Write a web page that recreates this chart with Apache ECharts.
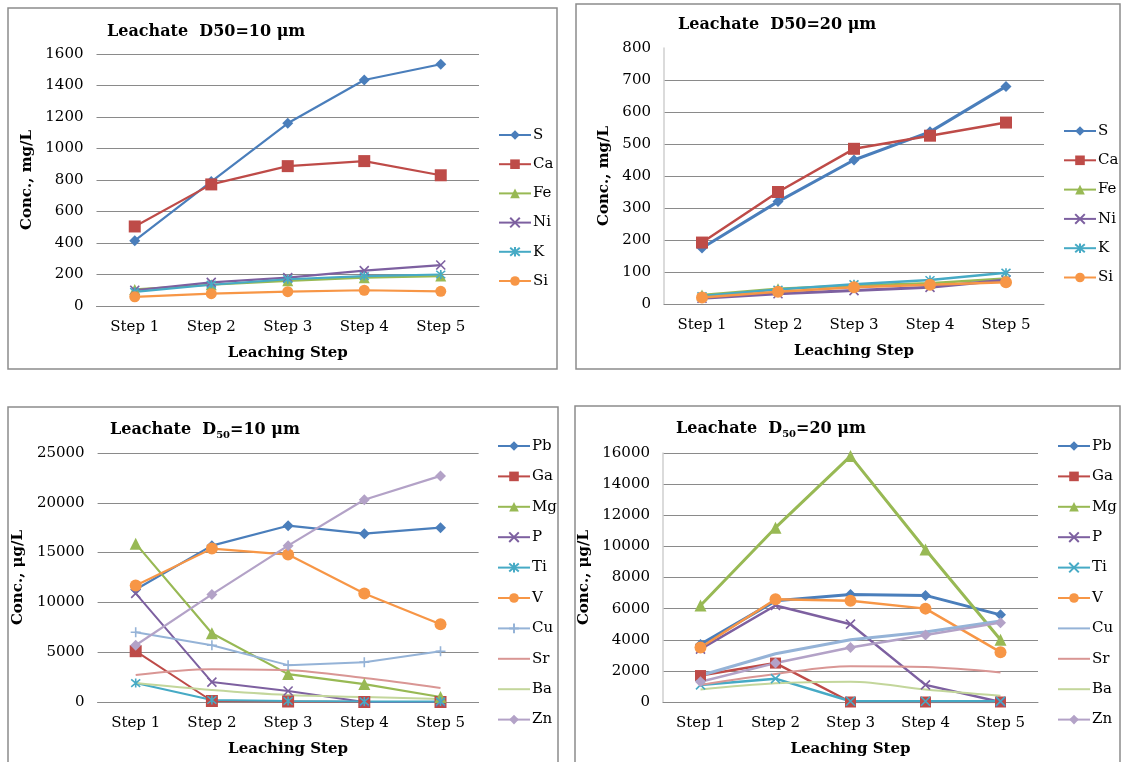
<!DOCTYPE html>
<html>
<head>
<meta charset="utf-8">
<script src="https://cdn.jsdelivr.net/npm/echarts@6/dist/echarts.min.js"></script>
<style>
  html, body { margin: 0; padding: 0; background: #fff; }
  #page { position: relative; width: 1123px; height: 762px; overflow: hidden; background: #fff; }
  .q { position: absolute; }
</style>
</head>
<body>
<div id="page">
  <div class="q" id="q1" style="left:0;top:0;width:562px;height:385px"></div>
  <div class="q" id="q2" style="left:562px;top:0;width:561px;height:385px"></div>
  <div class="q" id="q3" style="left:0;top:385px;width:562px;height:377px"></div>
  <div class="q" id="q4" style="left:562px;top:385px;width:561px;height:377px"></div>
</div>
<script>
// Leaching steps (x categories)
const steps = ['Step 1', 'Step 2', 'Step 3', 'Step 4', 'Step 5'];

// Major elements, D50 = 10 µm leachate (mg/L)
const sA  = [415, 790, 1160, 1435, 1535];
const caA = [505, 772, 888, 920, 830];
const feA = [105, 135, 160, 180, 190];
const niA = [100, 150, 180, 225, 260];
const kA  = [90, 135, 170, 190, 200];
const siA = [58, 78, 91, 100, 93];

// Major elements, D50 = 20 µm leachate (mg/L)
const sB  = [175, 320, 450, 538, 680];
const caB = [192, 350, 485, 526, 567];
const feB = [28, 48, 58, 65, 80];
const niB = [18, 32, 42, 52, 75];
const kB  = [25, 45, 62, 75, 98];
const siB = [20, 38, 52, 60, 68];

// Trace elements, D50 = 10 µm leachate (µg/L)
const pbC = [11300, 15700, 17700, 16900, 17500];
const gaC = [5100, 100, 50, 0, 0];
const mgC = [15900, 6900, 2800, 1800, 500];
const pC  = [10900, 2000, 1100, 0, 0];
const tiC = [1900, 200, 100, 50, 50];
const vC  = [11700, 15400, 14800, 10900, 7800];
const cuC = [7000, 5700, 3700, 4000, 5100];
const srC = [2700, 3300, 3200, 2400, 1400];
const baC = [1900, 1200, 700, 500, 300];
const znC = [5700, 10800, 15700, 20300, 22700];

// Trace elements, D50 = 20 µm leachate (µg/L)
const pbD = [3700, 6500, 6900, 6850, 5600];
const gaD = [1700, 2500, 0, 0, 0];
const mgD = [6200, 11200, 15800, 9800, 4000];
const pD  = [3400, 6200, 5000, 1100, 0];
const tiD = [1100, 1500, 50, 50, 50];
const vD  = [3500, 6600, 6500, 6000, 3200];
const cuD = [1700, 3100, 4000, 4500, 5200];
const srD = [1100, 1800, 2300, 2250, 1900];
const baD = [800, 1200, 1300, 800, 400];
const znD = [1300, 2500, 3500, 4300, 5100];

// Axis ranges
const yMaxA = 1600, yStepA = 200;
const yMaxB = 800, yStepB = 100;
const yMaxC = 25000, yStepC = 5000;
const yMaxD = 16000, yStepD = 2000;

// ---- styling ----
const FONT = 'DejaVu Serif';
const GRID_GRAY = '#8a8a8a';
const C = {
  blue: '#4a7ebb', red: '#be4b48', green: '#98b954', purple: '#7d60a0',
  teal: '#46aac5', orange: '#f79646', ltblue: '#95b3d7', pink: '#d99694',
  ltgreen: '#c3d69b', lilac: '#b3a2c7'
};
const XMARK = 'path://M0,0L10,10M10,0L0,10';
const STAR = 'path://M0,0L10,10M10,0L0,10M5,-1L5,11';
const PLUS = 'path://M5,0L5,10M0,5L10,5';

function line(name, data, color, symbol, size, width, extra) {
  const plain = symbol === 'none';
  const stroked = typeof symbol === 'string' && symbol.indexOf('path://') === 0;
  return Object.assign({
    type: 'line', name: name, data: data,
    // series without markers keep a hidden circle so the legend shows a bare line
    symbol: plain ? 'circle' : symbol, symbolSize: plain ? 1 : size, showSymbol: !plain,
    lineStyle: { color: color, width: width },
    itemStyle: plain ? { color: color, opacity: 0 }
             : stroked ? { color: color, borderColor: color, borderWidth: 1.6 }
             : { color: color, borderWidth: 0 },
    emphasis: { disabled: true },
    animation: false, z: 3
  }, extra || {});
}

// Panel layouts in page coordinates
const panels = [
  {
    el: 'q1', ox: 0, oy: 0,
    box: [8, 8, 549, 361],
    grid: [96.5, 54, 382.5, 252],
    title: 'Leachate  D50=10 μm', titlePos: [107, 22],
    legend: [498, 127, 13.2],
    yName: 'Conc., mg/L', yNameGap: 49, max: yMaxA, step: yStepA, yLine: false, showMax: true,
    series: [
      line('S', sA, C.blue, 'diamond', 11, 2.2),
      line('Ca', caA, C.red, 'rect', 12, 2.2),
      line('Fe', feA, C.green, 'triangle', 11, 2.2),
      line('Ni', niA, C.purple, XMARK, 9, 2.2),
      line('K', kA, C.teal, STAR, 9, 2.2),
      line('Si', siA, C.orange, 'circle', 11, 2.2)
    ]
  },
  {
    el: 'q2', ox: 562, oy: 0,
    box: [576, 4, 544, 365],
    grid: [664, 48, 380, 256],
    title: 'Leachate  D50=20 μm', titlePos: [678, 15],
    legend: [1063, 123, 13.3],
    yName: 'Conc., mg/L', yNameGap: 44, max: yMaxB, step: yStepB, yLine: true, showMax: false,
    series: [
      line('S', sB, C.blue, 'diamond', 11, 3),
      line('Ca', caB, C.red, 'rect', 12, 2.5),
      line('Fe', feB, C.green, 'triangle', 11, 2.5),
      line('Ni', niB, C.purple, XMARK, 9, 3),
      line('K', kB, C.teal, STAR, 9, 2.5),
      line('Si', siB, C.orange, 'circle', 12, 2.5)
    ]
  },
  {
    el: 'q3', ox: 0, oy: 385,
    box: [8, 407, 550, 380],
    grid: [97.6, 453, 381, 251],
    title: 'Leachate  D{s|50}=10 μm', titlePos: [110, 420],
    legend: [497, 438, 14.4],
    yName: 'Conc., μg/L', yNameGap: 57, max: yMaxC, step: yStepC, yLine: false, showMax: true,
    series: [
      line('Pb', pbC, C.blue, 'diamond', 11, 2.2),
      line('Ga', gaC, C.red, 'rect', 12, 2),
      line('Mg', mgC, C.green, 'triangle', 12, 2.2),
      line('P', pC, C.purple, XMARK, 9, 2),
      line('Ti', tiC, C.teal, STAR, 9, 2),
      line('V', vC, C.orange, 'circle', 12, 2.2),
      line('Cu', cuC, C.ltblue, PLUS, 10, 2),
      line('Sr', srC, C.pink, 'none', 0, 2, { smooth: 0.35 }),
      line('Ba', baC, C.ltgreen, 'none', 0, 2, { smooth: 0.35 }),
      line('Zn', znC, C.lilac, 'diamond', 11, 2.2)
    ]
  },
  {
    el: 'q4', ox: 562, oy: 385,
    box: [575, 406, 545, 380],
    grid: [663, 453, 375, 251],
    title: 'Leachate  D{s|50}=20 μm', titlePos: [676, 419],
    legend: [1057, 438, 14.4],
    yName: 'Conc., μg/L', yNameGap: 51, max: yMaxD, step: yStepD, yLine: true, showMax: true,
    series: [
      line('Pb', pbD, C.blue, 'diamond', 11, 3),
      line('Ga', gaD, C.red, 'rect', 11, 2.5),
      line('Mg', mgD, C.green, 'triangle', 12, 3),
      line('P', pD, C.purple, XMARK, 9, 2.5),
      line('Ti', tiD, C.teal, XMARK, 9, 2.5),
      line('V', vD, C.orange, 'circle', 12, 2.5),
      line('Cu', cuD, C.ltblue, 'none', 0, 3),
      line('Sr', srD, C.pink, 'none', 0, 2, { smooth: 0.35 }),
      line('Ba', baD, C.ltgreen, 'none', 0, 2, { smooth: 0.35 }),
      line('Zn', znD, C.lilac, 'diamond', 11, 2.5)
    ]
  }
];

function plainNumber(v) { return String(v); }

panels.forEach(function (p) {
  const chart = echarts.init(document.getElementById(p.el), null, { renderer: 'canvas' });
  const ox = p.ox, oy = p.oy;
  const option = {
    animation: false,
    backgroundColor: 'transparent',
    textStyle: { fontFamily: FONT },
    title: {
      text: p.title,
      left: p.titlePos[0] - ox, top: p.titlePos[1] - oy, padding: 0,
      textStyle: {
        fontFamily: FONT, fontWeight: 'bold', fontSize: 16, color: '#000', lineHeight: 20,
        rich: { s: { fontFamily: FONT, fontWeight: 'bold', fontSize: 10, verticalAlign: 'bottom', lineHeight: 20, padding: [8, 0, 0, 0] } }
      }
    },
    legend: {
      orient: 'vertical',
      left: p.legend[0] - ox, top: p.legend[1] - oy, padding: 0,
      itemGap: p.legend[2], itemWidth: 32, itemHeight: 12,
      selectedMode: false,
      textStyle: { fontFamily: FONT, fontSize: 15, color: '#000', lineHeight: 16, padding: [0, 0, 0, -3] },
      data: p.series.map(function (s) { return s.name; })
    },
    grid: {
      left: p.grid[0] - ox, top: p.grid[1] - oy, width: p.grid[2], height: p.grid[3],
      containLabel: false
    },
    xAxis: {
      type: 'category', data: steps, boundaryGap: true,
      axisLine: { show: true, lineStyle: { color: GRID_GRAY, width: 1 } },
      axisTick: { show: false },
      axisLabel: { fontFamily: FONT, fontSize: 15, color: '#000', margin: 14 },
      name: 'Leaching Step', nameLocation: 'middle', nameGap: 40,
      nameTextStyle: { fontFamily: FONT, fontSize: 15, fontWeight: 'bold', color: '#000' }
    },
    yAxis: {
      type: 'value', min: 0, max: p.max, interval: p.step,
      axisLine: { show: p.yLine, lineStyle: { color: '#cfcfcf', width: 1.5 } },
      axisTick: { show: false },
      axisLabel: { fontFamily: FONT, fontSize: 15, color: '#000', margin: 13, formatter: plainNumber },
      splitLine: { show: true, showMaxLine: p.showMax, lineStyle: { color: GRID_GRAY, width: 1 } },
      name: p.yName, nameLocation: 'middle', nameGap: p.yNameGap,
      nameTextStyle: { fontFamily: FONT, fontSize: 15, fontWeight: 'bold', color: '#000' }
    },
    graphic: [{
      type: 'rect', silent: true, z: -1,
      shape: { x: p.box[0] - ox, y: p.box[1] - oy, width: p.box[2], height: p.box[3] },
      style: { fill: 'none', stroke: '#8c8c8c', lineWidth: 1.5 }
    }],
    series: p.series
  };
  chart.setOption(option);
});
</script>
</body>
</html>
